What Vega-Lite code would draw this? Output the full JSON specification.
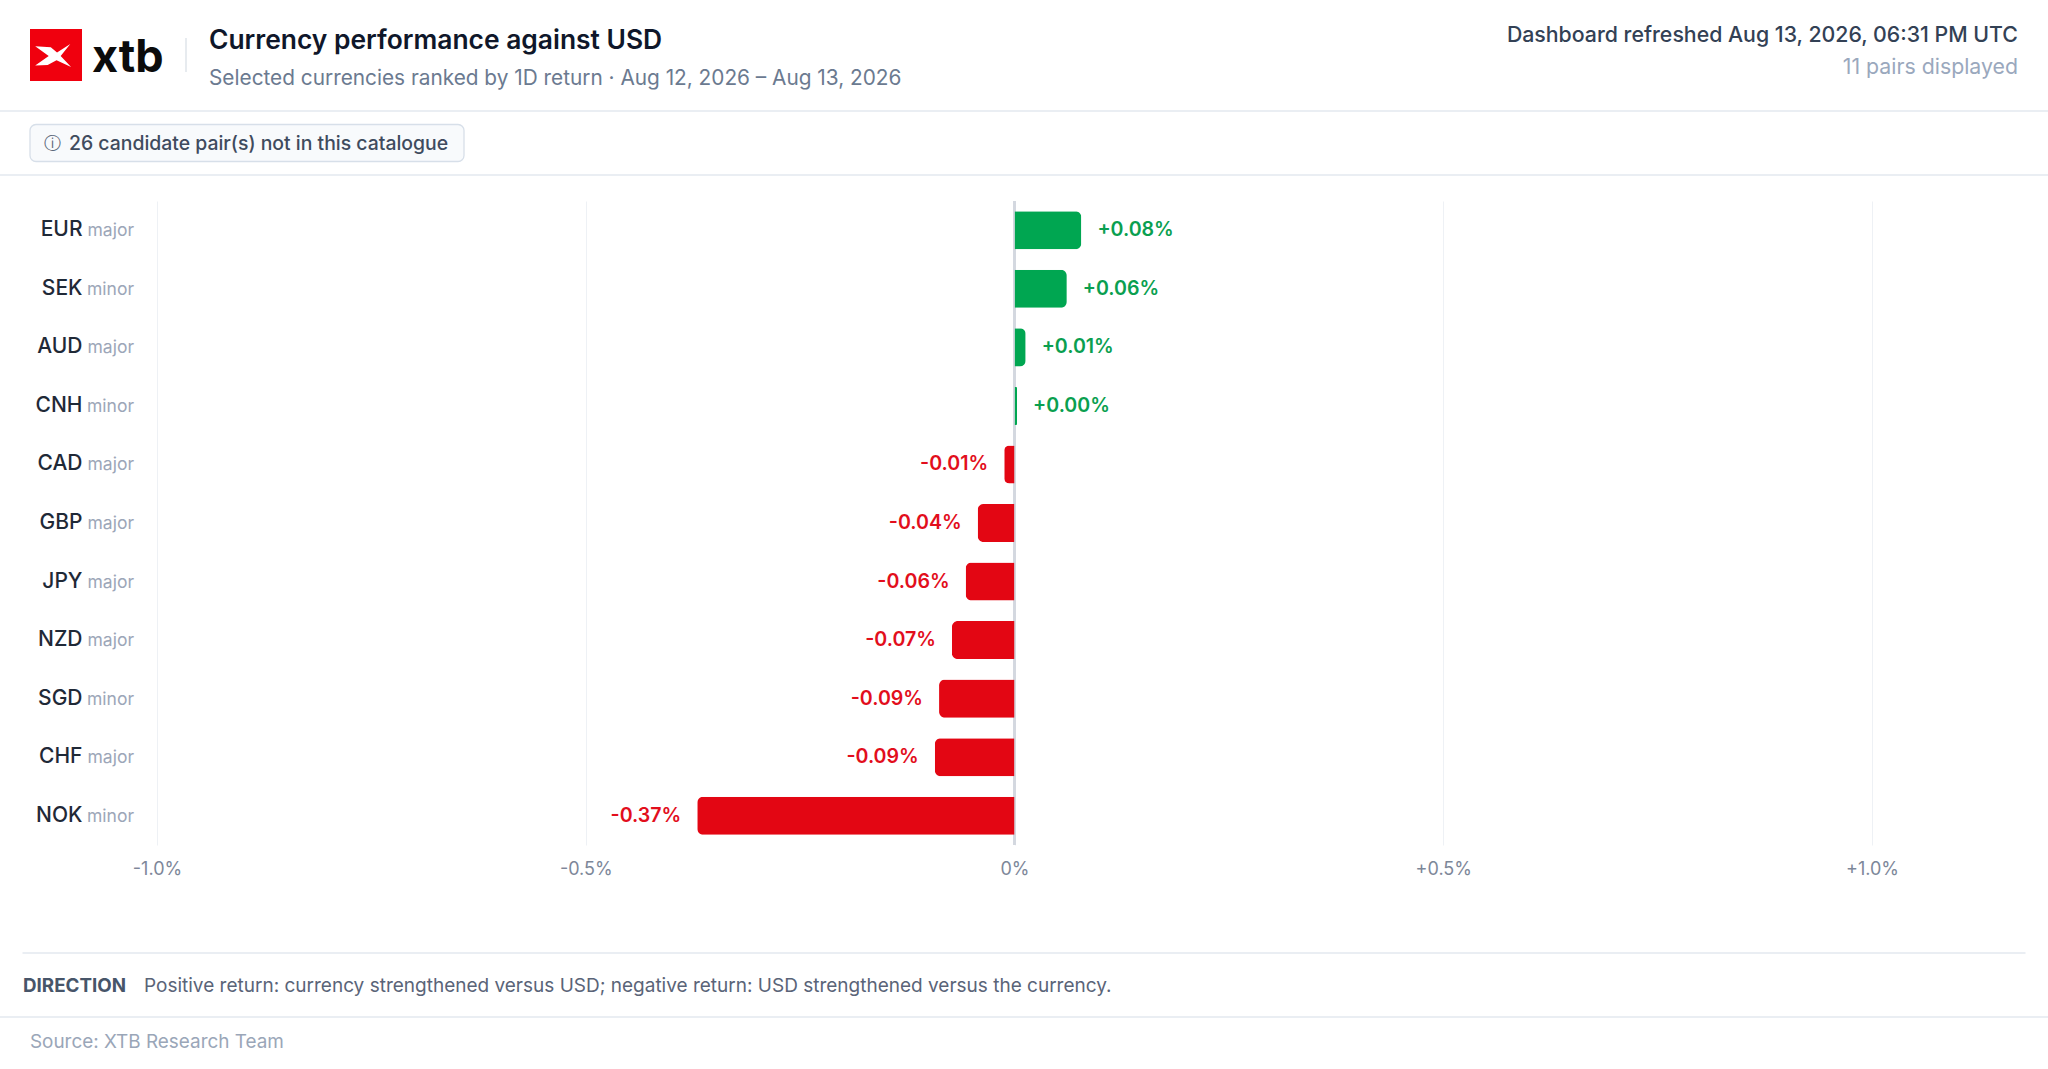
{
  "$schema": "https://vega.github.io/schema/vega-lite/v6.json",
  "background": "white",
  "padding": 0,
  "spacing": 0,
  "config": {
    "view": {"stroke": null},
    "font": "Inter",
    "text": {"font": "Inter"},
    "tick": {"opacity": 1},
    "axis": {"labelFont": "Inter"}
  },
  "vconcat": [
    {
      "hconcat": [
        {
          "width": 112, "height": 110,
          "data": {"values": [{"brand": "xtb"}]},
          "layer": [
            {"mark": {"type": "point", "shape": "square", "size": 2704, "filled": true, "fill": "#f0000e", "opacity": 1}},
            {"mark": {"type": "point", "shape": "M-0.8,-0.34 L-0.2,-0.3 L0.04,-0.1 L0.55,-0.42 L0.18,0.04 L0.58,0.46 L0.02,0.2 L-0.32,0.38 L-0.8,0.4 L-0.28,0.04 Z", "size": 2704, "filled": true, "fill": "white", "opacity": 1}}
          ]
        },
        {
          "width": 63, "height": 110,
          "data": {"values": [{"brand": "xtb"}]},
          "mark": {"type": "text", "align": "left", "baseline": "alphabetic", "dx": -51.5, "dy": 17, "fontSize": 45, "fontWeight": 700, "color": "#0b0b0b"},
          "encoding": {"text": {"field": "brand"}}
        },
        {
          "width": 22, "height": 110,
          "data": {"values": [{}]},
          "mark": {"type": "tick", "orient": "vertical", "size": 34, "thickness": 1.5, "color": "#dfe4ea"}
        },
        {
          "width": 1820, "height": 110,
          "data": {"values": [{"role": "title", "t": "Currency performance against USD"}, {"role": "subtitle", "t": "Selected currencies ranked by 1D return · Aug 12, 2026 – Aug 13, 2026"}]},
          "layer": [
            {
              "transform": [{"filter": "datum.role == 'title'"}],
              "mark": {"type": "text", "align": "left", "baseline": "alphabetic", "dx": -898, "dy": -6, "fontSize": 26.4, "fontWeight": 600, "color": "#0f172a"},
              "encoding": {"text": {"field": "t"}}
            },
            {
              "transform": [{"filter": "datum.role == 'subtitle'"}],
              "mark": {"type": "text", "align": "left", "baseline": "alphabetic", "dx": -898, "dy": 30, "fontSize": 20.8, "color": "#6b7a90"},
              "encoding": {"text": {"field": "t"}}
            }
          ]
        },
        {
          "width": 2, "height": 110,
          "data": {"values": [{"role": "refresh", "t": "Dashboard refreshed Aug 13, 2026, 06:31 PM UTC"}, {"role": "count", "t": "11 pairs displayed"}]},
          "layer": [
            {
              "transform": [{"filter": "datum.role == 'refresh'"}],
              "mark": {"type": "text", "align": "right", "baseline": "alphabetic", "dy": -13, "fontSize": 21.3, "fontWeight": 500, "color": "#334155"},
              "encoding": {"text": {"field": "t"}}
            },
            {
              "transform": [{"filter": "datum.role == 'count'"}],
              "mark": {"type": "text", "align": "right", "baseline": "alphabetic", "dy": 18.5, "fontSize": 21.3, "color": "#9aa8bd"},
              "encoding": {"text": {"field": "t"}}
            }
          ]
        }
      ],
      "spacing": 0,
      "bounds": "flush"
    },
    {
      "width": 2048, "height": 2,
      "data": {"values": [{}]},
      "mark": {"type": "tick", "orient": "horizontal", "size": 2048, "thickness": 1.5, "color": "#e3e8ef"}
    },
    {
      "width": 494, "height": 62,
      "data": {"values": [{"icon": "ⓘ", "t": "26 candidate pair(s) not in this catalogue"}]},
      "layer": [
        {"mark": {"type": "tick", "orient": "horizontal", "size": 434, "thickness": 37, "cornerRadius": 6, "fill": "#f8fafc", "stroke": "#d7dfe9", "strokeWidth": 1.3}},
        {
          "mark": {"type": "text", "align": "center", "baseline": "middle", "dx": -195, "dy": 1, "fontSize": 17, "font": "DejaVu Sans", "color": "#5b6779"},
          "encoding": {"text": {"field": "icon"}}
        },
        {
          "mark": {"type": "text", "align": "left", "baseline": "middle", "dx": -178, "dy": 1, "fontSize": 19.4, "fontWeight": 500, "color": "#3f4b5e"},
          "encoding": {"text": {"field": "t"}}
        }
      ]
    },
    {
      "width": 2048, "height": 2,
      "data": {"values": [{}]},
      "mark": {"type": "tick", "orient": "horizontal", "size": 2048, "thickness": 1.5, "color": "#e3e8ef"}
    },
    {
      "width": 2048, "height": 24,
      "data": {"values": [{}]},
      "mark": {"type": "text", "text": ""}
    },
    {
      "hconcat": [
        {
          "width": 157, "height": 644,
          "data": {"values": [{}]},
          "mark": {"type": "text", "text": ""}
        },
        {
          "width": 1715, "height": 644,
          "data": {
            "values": [
              {"code": "EUR", "tier": "major", "ret": 0.078, "label": "+0.08%"},
              {"code": "SEK", "tier": "minor", "ret": 0.061, "label": "+0.06%"},
              {"code": "AUD", "tier": "major", "ret": 0.013, "label": "+0.01%"},
              {"code": "CNH", "tier": "minor", "ret": 0.003, "label": "+0.00%"},
              {"code": "CAD", "tier": "major", "ret": -0.012, "label": "-0.01%"},
              {"code": "GBP", "tier": "major", "ret": -0.043, "label": "-0.04%"},
              {"code": "JPY", "tier": "major", "ret": -0.057, "label": "-0.06%"},
              {"code": "NZD", "tier": "major", "ret": -0.073, "label": "-0.07%"},
              {"code": "SGD", "tier": "minor", "ret": -0.088, "label": "-0.09%"},
              {"code": "CHF", "tier": "major", "ret": -0.093, "label": "-0.09%"},
              {"code": "NOK", "tier": "minor", "ret": -0.37, "label": "-0.37%"}
            ]
          },
          "layer": [
            {
              "mark": {"type": "rule", "color": "#d3d8df", "strokeWidth": 1.5},
              "encoding": {
                "x": {"datum": 0, "type": "quantitative", "scale": {"domain": [-1, 1], "nice": false}}
              }
            },
            {
              "transform": [{"filter": "datum.ret >= 0"}],
              "mark": {"type": "bar", "color": "#00a651", "cornerRadiusTopRight": 6, "cornerRadiusBottomRight": 6},
              "encoding": {
                "y": {
                  "field": "code", "type": "nominal", "sort": null,
                  "scale": {"paddingInner": 0.35, "paddingOuter": 0.175},
                  "axis": {"title": null, "domain": false, "ticks": false, "labelPadding": 75, "labelFontSize": 21, "labelFontWeight": 500, "labelColor": "#1f2937"}
                },
                "x": {
                  "field": "ret", "type": "quantitative",
                  "scale": {"domain": [-1, 1], "nice": false},
                  "axis": {
                    "title": null, "values": [-1, -0.5, 0, 0.5, 1], "grid": true, "gridColor": "#eef1f5", "gridWidth": 1,
                    "domain": false, "ticks": false, "labelPadding": 15, "labelFlush": false,
                    "labelFontSize": 18, "labelColor": "#7d8799",
                    "labelExpr": "datum.value == 0 ? '0%' : (datum.value > 0 ? '+' : '-') + format(abs(datum.value), '.1f') + '%'"
                  }
                }
              }
            },
            {
              "transform": [{"filter": "datum.ret < 0"}],
              "mark": {"type": "bar", "color": "#e30613", "cornerRadiusTopLeft": 6, "cornerRadiusBottomLeft": 6},
              "encoding": {
                "y": {"field": "code", "type": "nominal", "sort": null},
                "x": {"field": "ret", "type": "quantitative", "scale": {"domain": [-1, 1], "nice": false}}
              }
            },
            {
              "transform": [{"filter": "datum.ret >= 0"}],
              "mark": {"type": "text", "align": "left", "baseline": "middle", "dx": 16, "fontSize": 19.6, "fontWeight": 600, "color": "#0a9f50"},
              "encoding": {
                "y": {"field": "code", "type": "nominal", "sort": null},
                "x": {"field": "ret", "type": "quantitative", "scale": {"domain": [-1, 1], "nice": false}},
                "text": {"field": "label"}
              }
            },
            {
              "transform": [{"filter": "datum.ret < 0"}],
              "mark": {"type": "text", "align": "right", "baseline": "middle", "dx": -16, "fontSize": 19.6, "fontWeight": 600, "color": "#e20e1c"},
              "encoding": {
                "y": {"field": "code", "type": "nominal", "sort": null},
                "x": {"field": "ret", "type": "quantitative", "scale": {"domain": [-1, 1], "nice": false}},
                "text": {"field": "label"}
              }
            },
            {
              "mark": {"type": "text", "align": "right", "baseline": "middle", "dx": -23, "dy": 1, "fontSize": 17.5, "color": "#9ca6b8"},
              "encoding": {
                "y": {"field": "code", "type": "nominal", "sort": null},
                "x": {"datum": -1, "type": "quantitative", "scale": {"domain": [-1, 1], "nice": false}},
                "text": {"field": "tier"}
              }
            }
          ]
        }
      ],
      "spacing": 0,
      "bounds": "flush"
    },
    {
      "width": 2048, "height": 74,
      "data": {"values": [{}]},
      "mark": {"type": "text", "text": ""}
    },
    {
      "width": 2048, "height": 2,
      "data": {"values": [{}]},
      "mark": {"type": "tick", "orient": "horizontal", "size": 2003, "thickness": 1.5, "color": "#e3e8ef"}
    },
    {
      "width": 2048, "height": 62,
      "data": {"values": [{"head": "DIRECTION", "t": "Positive return: currency strengthened versus USD; negative return: USD strengthened versus the currency."}]},
      "layer": [
        {
          "mark": {"type": "text", "align": "left", "baseline": "middle", "dx": -1001, "dy": 1, "fontSize": 18.8, "fontWeight": 700, "letterSpacing": 1.6, "color": "#475569"},
          "encoding": {"text": {"field": "head"}}
        },
        {
          "mark": {"type": "text", "align": "left", "baseline": "middle", "dx": -880, "dy": 1, "fontSize": 19, "color": "#5a6478"},
          "encoding": {"text": {"field": "t"}}
        }
      ]
    },
    {
      "width": 2048, "height": 2,
      "data": {"values": [{}]},
      "mark": {"type": "tick", "orient": "horizontal", "size": 2048, "thickness": 1.5, "color": "#e3e8ef"}
    },
    {
      "width": 2048, "height": 52,
      "data": {"values": [{"t": "Source: XTB Research Team"}]},
      "mark": {"type": "text", "align": "left", "baseline": "middle", "dx": -994, "dy": -2, "fontSize": 18.9, "color": "#9aa6b8"},
      "encoding": {"text": {"field": "t"}}
    }
  ]
}
